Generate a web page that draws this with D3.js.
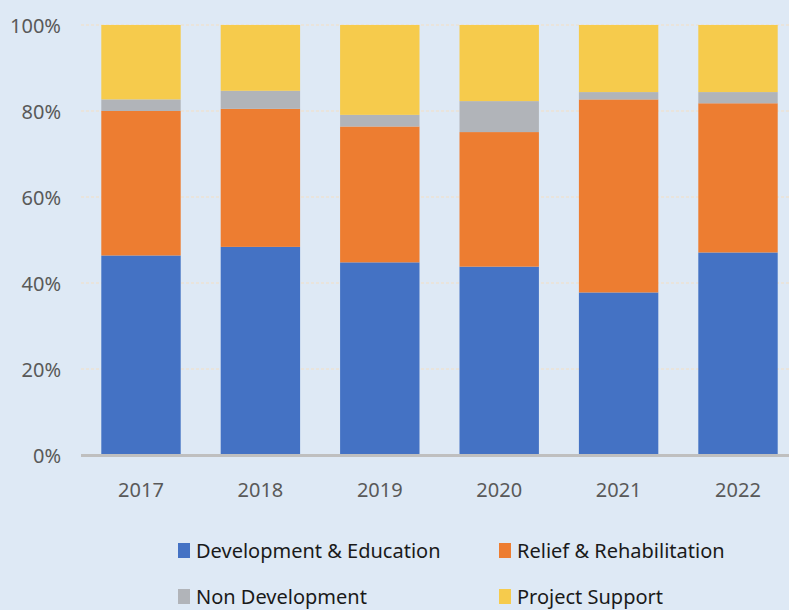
<!DOCTYPE html>
<html>
<head>
<meta charset="utf-8">
<script src="https://cdn.jsdelivr.net/npm/d3@7"></script>
<style>
  body { margin: 0; background: #dee9f5; }
  svg { display: block; }
  .lbl { font-family: "Noto Sans", sans-serif; }
</style>
</head>
<body>
<div id="chart"></div>
<script>
var years = ["2017", "2018", "2019", "2020", "2021", "2022"];
var seriesNames = ["Development & Education", "Relief & Rehabilitation", "Non Development", "Project Support"];
var devEdu = [46.4, 48.4, 44.8, 43.8, 37.8, 47.1];
var relief = [33.6, 32.1, 31.6, 31.3, 44.9, 34.7];
var nonDev = [2.7, 4.2, 2.7, 7.2, 1.7, 2.6];
var projSupport = [17.3, 15.3, 20.9, 17.7, 15.6, 15.6];
var yTicks = [0, 20, 40, 60, 80, 100];
var colors = ["#4472c4", "#ed7d31", "#b1b4b9", "#f6cb4c"];

var w = 789;
var h = 610;
var svgChart, xScale, yScale;

function setScales(){
  xScale = d3.scaleBand()
    .domain(years)
    .range([81.3, 797.7])
    .paddingInner(0.335)
    .paddingOuter(0.1675);

  yScale = d3.scaleLinear()
    .domain([0, 100])
    .range([455, 25]);
}

function buildData(){
  var rows = years.map(function(y, i){
    return {year: y, s0: devEdu[i], s1: relief[i], s2: nonDev[i], s3: projSupport[i]};
  });
  return d3.stack().keys(["s0", "s1", "s2", "s3"])(rows);
}

function drawAxes(){
  svgChart = d3.select("#chart")
    .append("svg")
    .attr("width", w)
    .attr("height", h);

  // gridlines
  svgChart.selectAll("line.grid")
    .data(yTicks.filter(function(d){ return d > 0; }))
    .enter()
    .append("line")
    .attr("class", "grid")
    .attr("x1", 81)
    .attr("x2", w)
    .attr("y1", function(d){ return yScale(d); })
    .attr("y2", function(d){ return yScale(d); })
    .attr("stroke", "#e9e4dc")
    .attr("stroke-width", 2)
    .attr("stroke-dasharray", "3,2");

  // y labels
  svgChart.selectAll("text.ylab")
    .data(yTicks)
    .enter()
    .append("text")
    .attr("class", "ylab lbl")
    .attr("x", 61)
    .attr("y", function(d){ return yScale(d) + 8; })
    .attr("text-anchor", "end")
    .attr("font-size", 20)
    .attr("fill", "#595959")
    .text(function(d){ return d + "%"; });

  // x labels
  svgChart.selectAll("text.xlab")
    .data(years)
    .enter()
    .append("text")
    .attr("class", "xlab lbl")
    .attr("x", function(d){ return xScale(d) + xScale.bandwidth() / 2; })
    .attr("y", 497)
    .attr("text-anchor", "middle")
    .attr("font-size", 20)
    .attr("fill", "#595959")
    .text(function(d){ return d; });
}

function drawBars(){
  var stacked = buildData();
  var groups = svgChart.selectAll("g.series")
    .data(stacked)
    .enter()
    .append("g")
    .attr("class", "series")
    .attr("fill", function(d, i){ return colors[i]; });

  groups.selectAll("rect")
    .data(function(d){ return d; })
    .enter()
    .append("rect")
    .attr("x", function(d){ return xScale(d.data.year); })
    .attr("y", function(d){ return yScale(d[1]); })
    .attr("width", xScale.bandwidth())
    .attr("height", function(d){ return yScale(d[0]) - yScale(d[1]); });

  // baseline axis
  svgChart.append("line")
    .attr("x1", 81)
    .attr("x2", w)
    .attr("y1", yScale(0) + 0.5)
    .attr("y2", yScale(0) + 0.5)
    .attr("stroke", "#bfbfbf")
    .attr("stroke-width", 3);
}

function drawLegend(){
  var pos = [[178, 558], [499, 558], [178, 604], [499, 604]];
  var items = svgChart.selectAll("g.legend")
    .data(seriesNames)
    .enter()
    .append("g")
    .attr("class", "legend")
    .attr("transform", function(d, i){ return "translate(" + pos[i][0] + "," + pos[i][1] + ")"; });

  items.append("rect")
    .attr("x", 0)
    .attr("y", -15)
    .attr("width", 12)
    .attr("height", 15)
    .attr("fill", function(d, i){ return colors[i]; });

  items.append("text")
    .attr("class", "lbl")
    .attr("x", 18)
    .attr("y", 0)
    .attr("font-size", 20)
    .attr("fill", "#1a1a1a")
    .text(function(d){ return d; });
}

setScales();
drawAxes();
drawBars();
drawLegend();
</script>
</body>
</html>
